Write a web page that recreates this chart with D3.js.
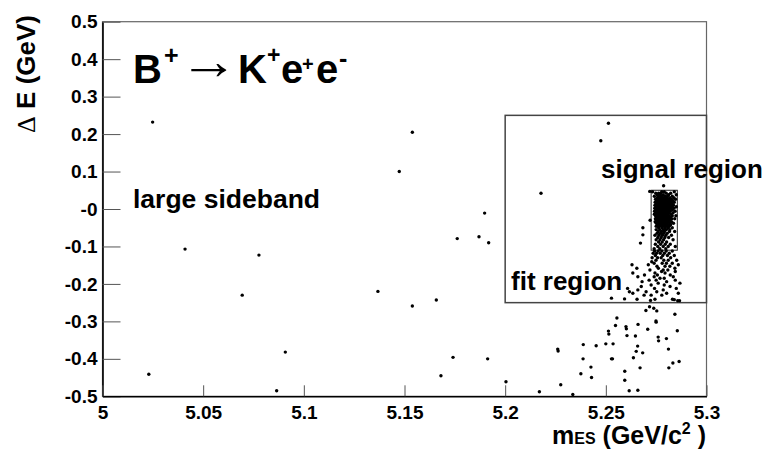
<!DOCTYPE html>
<html>
<head>
<meta charset="utf-8">
<script src="https://cdn.jsdelivr.net/npm/d3@7"></script>
<style>
  body { margin: 0; background: #fff; }
  svg { display: block; }
  text { font-family: "Liberation Sans", Arial, Helvetica, sans-serif; font-weight: bold; fill: #000; }
</style>
</head>
<body>
<svg id="chart" width="769" height="449"></svg>
<script>
// Axis ranges and tick labels (mES in GeV/c^2, Delta E in GeV)
const xDomain = [5.0, 5.3];
const yDomain = [-0.5, 0.5];
const xTicks = [5.0, 5.05, 5.1, 5.15, 5.2, 5.25, 5.3];
const xTickLabels = ["5", "5.05", "5.1", "5.15", "5.2", "5.25", "5.3"];
const yTicks = [-0.5, -0.4, -0.3, -0.2, -0.1, 0.0, 0.1, 0.2, 0.3, 0.4, 0.5];
const yTickLabels = ["-0.5", "-0.4", "-0.3", "-0.2", "-0.1", "-0", "0.1", "0.2", "0.3", "0.4", "0.5"];

// Region boundaries [mES min, mES max, dE min, dE max]
const fitRegion = [5.2, 5.3, -0.25, 0.25];
const signalRegion = [5.2725, 5.2855, -0.11, 0.05];

// Region annotations
const regionLabels = ["large sideband", "signal region", "fit region"];

// Candidates in the large sideband (outside the fit region)
const sidebandEvents = [
  [5.0249, 0.232], [5.0410, -0.107], [5.0230, -0.441], [5.0777, -0.123], [5.0694, -0.230],
  [5.0908, -0.382], [5.0865, -0.485], [5.1474, 0.100], [5.1539, 0.205], [5.1368, -0.220],
  [5.1539, -0.259], [5.1658, -0.243], [5.1741, -0.396], [5.1681, -0.445], [5.1762, -0.079],
  [5.1870, -0.074], [5.1898, -0.011], [5.1918, -0.090], [5.1913, -0.400],
  [5.2004, -0.461], [5.2170, -0.488], [5.2276, -0.469], [5.2336, -0.495], [5.2261, -0.374],
  [5.2263, -0.379], [5.2388, -0.362], [5.2387, -0.400], [5.2376, -0.440], [5.2426, -0.422],
  [5.2429, -0.450], [5.2452, -0.365], [5.2500, -0.360], [5.2536, -0.360], [5.2528, -0.400],
  [5.2533, -0.400], [5.2513, -0.326], [5.2515, -0.334], [5.2548, -0.311], [5.2555, -0.291],
  [5.2600, -0.314], [5.2602, -0.320], [5.2605, -0.338], [5.2647, -0.339], [5.2660, -0.308],
  [5.2708, -0.321], [5.2658, -0.366], [5.2651, -0.380], [5.2683, -0.384], [5.2637, -0.397],
  [5.2670, -0.424], [5.2594, -0.433], [5.2594, -0.457], [5.2616, -0.485], [5.2659, -0.484],
  [5.2699, -0.271], [5.2717, -0.261], [5.2738, -0.265], [5.2753, -0.272], [5.2749, -0.299],
  [5.2750, -0.302], [5.2760, -0.342], [5.2762, -0.352], [5.2801, -0.346], [5.2811, -0.374],
  [5.2843, -0.281], [5.2855, -0.325], [5.2813, -0.424], [5.2833, -0.411], [5.2864, -0.407]
];

// Candidates inside the fit region but outside the signal box
const fitRegionEvents = [
  [5.2513, 0.229], [5.2475, 0.182], [5.2178, 0.042], [5.2787, 0.062],
  [5.2684, -0.050], [5.2684, -0.069], [5.2672, -0.091], [5.2718, 0.047], [5.2720, -0.030],
  [5.2528, -0.238], [5.2593, -0.240], [5.2655, -0.241], [5.2722, -0.244], [5.2744, -0.241],
  [5.2831, -0.241], [5.2840, -0.242], [5.2857, -0.245], [5.2866, -0.245],
  [5.2742, -0.112], [5.2760, -0.112], [5.2778, -0.112], [5.2800, -0.112], [5.2830, -0.112],
  [5.2735, -0.118], [5.2752, -0.118], [5.2770, -0.118], [5.2791, -0.118], [5.2815, -0.118],
  [5.2746, -0.124], [5.2783, -0.124], [5.2806, -0.124], [5.2840, -0.124],
  [5.2730, -0.130], [5.2757, -0.130], [5.2775, -0.130], [5.2822, -0.130],
  [5.2749, -0.137], [5.2788, -0.137], [5.2810, -0.137], [5.2852, -0.137],
  [5.2728, -0.141],
  [5.2740, -0.145], [5.2780, -0.145], [5.2801, -0.145], [5.2830, -0.145],
  [5.2630, -0.149], [5.2711, -0.149], [5.2860, -0.149],
  [5.2754, -0.153], [5.2794, -0.153], [5.2818, -0.153],
  [5.2654, -0.158], [5.2761, -0.158], [5.2843, -0.158],
  [5.2719, -0.163], [5.2785, -0.163], [5.2808, -0.163],
  [5.2777, -0.167], [5.2845, -0.167],
  [5.2744, -0.171], [5.2794, -0.171], [5.2634, -0.171],
  [5.2692, -0.176], [5.2756, -0.176], [5.2820, -0.176],
  [5.2835, -0.181], [5.2659, -0.181], [5.2740, -0.181],
  [5.2769, -0.185], [5.2790, -0.185],
  [5.2715, -0.190], [5.2750, -0.190], [5.2845, -0.190],
  [5.2802, -0.194], [5.2680, -0.194],
  [5.2868, -0.198], [5.2760, -0.198],
  [5.2725, -0.203], [5.2790, -0.203],
  [5.2676, -0.207], [5.2819, -0.207],
  [5.2608, -0.212], [5.2742, -0.212], [5.2850, -0.212],
  [5.2659, -0.216], [5.2785, -0.216],
  [5.2617, -0.221], [5.2753, -0.221], [5.2700, -0.221],
  [5.2634, -0.225], [5.2802, -0.225], [5.2860, -0.225],
  [5.2778, -0.230], [5.2690, -0.230], [5.2725, -0.230]
];

// Candidates inside the signal box, listed row by row: [dE, [mES values]]
const signalRows = [
  [0.046, [5.2732, 5.2778, 5.2790, 5.2840]],
  [0.042, [5.2748, 5.2762, 5.2772, 5.2800, 5.2822]],
  [0.038, [5.2756, 5.2770, 5.2785, 5.2812, 5.2850]],
  [0.034, [5.2741, 5.2762, 5.2776, 5.2794, 5.2806, 5.2830]],
  [0.030, [5.2755, 5.2768, 5.2781, 5.2790, 5.2803, 5.2818, 5.2838]],
  [0.026, [5.2747, 5.2760, 5.2774, 5.2786, 5.2798, 5.2811, 5.2826, 5.2846]],
  [0.022, [5.2752, 5.2766, 5.2778, 5.2792, 5.2805, 5.2819, 5.2833]],
  [0.018, [5.2745, 5.2758, 5.2771, 5.2784, 5.2797, 5.2810, 5.2824, 5.2840]],
  [0.014, [5.2751, 5.2764, 5.2777, 5.2790, 5.2803, 5.2816, 5.2830]],
  [0.010, [5.2744, 5.2757, 5.2770, 5.2783, 5.2796, 5.2809, 5.2822, 5.2836]],
  [0.006, [5.2750, 5.2763, 5.2776, 5.2789, 5.2802, 5.2815, 5.2829, 5.2850]],
  [0.002, [5.2743, 5.2756, 5.2769, 5.2782, 5.2795, 5.2808, 5.2821, 5.2838]],
  [-0.002, [5.2749, 5.2762, 5.2775, 5.2788, 5.2801, 5.2814, 5.2831]],
  [-0.006, [5.2742, 5.2755, 5.2768, 5.2781, 5.2794, 5.2807, 5.2820, 5.2844]],
  [-0.010, [5.2748, 5.2761, 5.2774, 5.2787, 5.2800, 5.2813, 5.2834]],
  [-0.014, [5.2741, 5.2754, 5.2767, 5.2780, 5.2793, 5.2806, 5.2823]],
  [-0.018, [5.2747, 5.2760, 5.2773, 5.2786, 5.2799, 5.2812, 5.2830, 5.2848]],
  [-0.022, [5.2753, 5.2766, 5.2779, 5.2792, 5.2805, 5.2820]],
  [-0.026, [5.2746, 5.2759, 5.2772, 5.2785, 5.2798, 5.2811, 5.2827, 5.2842]],
  [-0.030, [5.2752, 5.2765, 5.2778, 5.2791, 5.2804, 5.2817]],
  [-0.034, [5.2745, 5.2758, 5.2771, 5.2784, 5.2797, 5.2810, 5.2826]],
  [-0.038, [5.2751, 5.2764, 5.2777, 5.2790, 5.2803, 5.2818, 5.2836]],
  [-0.042, [5.2757, 5.2770, 5.2783, 5.2796, 5.2809, 5.2822]],
  [-0.046, [5.2750, 5.2763, 5.2776, 5.2789, 5.2802, 5.2815]],
  [-0.050, [5.2762, 5.2779, 5.2794, 5.2810, 5.2830]],
  [-0.055, [5.2750, 5.2768, 5.2786, 5.2801, 5.2818]],
  [-0.060, [5.2760, 5.2777, 5.2792, 5.2816, 5.2842]],
  [-0.065, [5.2754, 5.2771, 5.2787, 5.2805]],
  [-0.070, [5.2744, 5.2764, 5.2781, 5.2798, 5.2826]],
  [-0.076, [5.2758, 5.2775, 5.2793, 5.2812]],
  [-0.082, [5.2750, 5.2769, 5.2787, 5.2834]],
  [-0.088, [5.2762, 5.2780, 5.2802]],
  [-0.094, [5.2746, 5.2772, 5.2795, 5.2820]],
  [-0.100, [5.2758, 5.2785, 5.2810, 5.2845]],
  [-0.106, [5.2740, 5.2768, 5.2798]]
];

const svg = d3.select("#chart");
const W = 769, H = 449;
const margin = { left: 102.5, right: 62.5, top: 21.7, bottom: 52.7 };

const x = d3.scaleLinear().domain(xDomain).range([margin.left, W - margin.right]);
const y = d3.scaleLinear().domain(yDomain).range([H - margin.bottom, margin.top]);

// Frame around the plotting area
svg.append("rect")
  .attr("x", x(xDomain[0])).attr("y", y(yDomain[1]))
  .attr("width", x(xDomain[1]) - x(xDomain[0]))
  .attr("height", y(yDomain[0]) - y(yDomain[1]))
  .attr("fill", "none").attr("stroke", "#666").attr("stroke-width", 1.2);

// Fit region box
svg.append("rect")
  .attr("x", x(fitRegion[0])).attr("y", y(fitRegion[3]))
  .attr("width", x(fitRegion[1]) - x(fitRegion[0]))
  .attr("height", y(fitRegion[2]) - y(fitRegion[3]))
  .attr("fill", "none").attr("stroke", "#444").attr("stroke-width", 1.5);

// Signal region box
svg.append("rect")
  .attr("x", x(signalRegion[0])).attr("y", y(signalRegion[3]))
  .attr("width", x(signalRegion[1]) - x(signalRegion[0]))
  .attr("height", y(signalRegion[2]) - y(signalRegion[3]))
  .attr("fill", "none").attr("stroke", "#222").attr("stroke-width", 1);

// All candidates
const signalEvents = signalRows.flatMap(([dE, ms]) => ms.map(m => [m, dE]));
const events = sidebandEvents.concat(fitRegionEvents, signalEvents);
svg.append("g").selectAll("circle").data(events).join("circle")
  .attr("cx", d => x(d[0])).attr("cy", d => y(d[1]))
  .attr("r", 1.7).attr("fill", "#000");

// Axes (ticks pointing into the frame)
const yAxis = d3.axisLeft(y).tickValues(yTicks)
  .tickFormat((d, i) => yTickLabels[i])
  .tickSizeInner(-18).tickSizeOuter(0).tickPadding(5);
const gy = svg.append("g").attr("transform", `translate(${x(xDomain[0])},0)`).call(yAxis);

const xAxis = d3.axisBottom(x).tickValues(xTicks)
  .tickFormat((d, i) => xTickLabels[i])
  .tickSizeInner(-11).tickSizeOuter(0).tickPadding(9);
const gx = svg.append("g").attr("transform", `translate(0,${y(yDomain[0])})`).call(xAxis);

[gx, gy].forEach(g => {
  g.select(".domain").attr("stroke", "#000").attr("stroke-width", 1.6);
  g.selectAll(".tick line").attr("stroke", "#555").attr("stroke-width", 1);
  g.selectAll(".tick text")
    .style("font-family", '"Liberation Sans", Arial, sans-serif')
    .style("font-weight", "bold").style("font-size", "19px").attr("fill", "#000");
});

// Axis titles
const yTitle = svg.append("text")
  .attr("transform", "translate(35,15) rotate(-90)")
  .attr("text-anchor", "end")
  .style("font-size", "26px");
yTitle.append("tspan").style("font-family", '"Liberation Serif", serif').style("font-weight", "normal").text("Δ");
yTitle.append("tspan").text(" E (GeV)");

const xTitle = svg.append("text")
  .attr("x", 706).attr("y", 444)
  .attr("text-anchor", "end")
  .style("font-size", "25px");
xTitle.append("tspan").text("m");
xTitle.append("tspan").style("font-size", "16px").text("ES");
xTitle.append("tspan").text(" (GeV/c");
xTitle.append("tspan").style("font-size", "16px").attr("dy", -10).text("2");
xTitle.append("tspan").attr("dy", 10).text(" )");

// Decay title B+ -> K+ e+ e-
const title = svg.append("text");
const piece = (txt, px, py, size) =>
  title.append("tspan").attr("x", px).attr("y", py).style("font-size", size + "px").text(txt);
piece("B", 133, 83, 40);
piece("+", 164, 64, 25);
piece("K", 238, 83, 40);
piece("+", 267, 63, 23);
piece("e", 281, 83, 40);
piece("+", 302, 71, 20);
piece("e", 316, 83, 40);
piece("-", 339, 67, 25);

// Reaction arrow, stretched to the width of the symbol-font arrow
svg.append("text")
  .attr("x", 179).attr("y", 79)
  .attr("textLength", 59).attr("lengthAdjust", "spacingAndGlyphs")
  .style("font-family", '"Liberation Sans", sans-serif')
  .style("font-weight", "normal").style("font-size", "52px")
  .text("→");

// Region labels
svg.append("text").attr("x", 133).attr("y", 208).style("font-size", "26.5px").text(regionLabels[0]);
svg.append("text").attr("x", 601).attr("y", 178).style("font-size", "26px").text(regionLabels[1]);
svg.append("text").attr("x", 511).attr("y", 290).style("font-size", "26px").text(regionLabels[2]);
</script>
</body>
</html>
